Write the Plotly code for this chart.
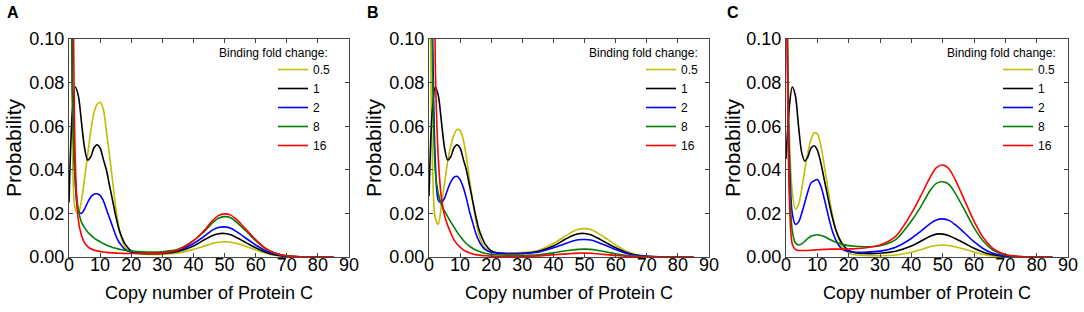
import plotly.graph_objects as go

# ---------------- data ----------------
copy_number = [0, 1, 2, 3, 4, 5, 6, 7, 8, 9, 10, 11, 12, 13, 14, 15, 16, 17, 18, 20, 22, 25, 30, 35,
               40, 43, 46, 48, 50, 52, 54, 57, 60, 63, 66, 70, 75, 80, 85]
fold_labels = ["0.5", "1", "2", "8", "16"]
panel_labels = ["A", "B", "C"]
x_ticks = [0, 10, 20, 30, 40, 50, 60, 70, 80, 90]
y_ticks = [0.00, 0.02, 0.04, 0.06, 0.08, 0.10]

# Panel A
a_05 = [0.25, 0.07, 0.022, 0.020, 0.026, 0.036, 0.047, 0.058, 0.066, 0.070, 0.071, 0.068, 0.058, 0.047, 0.035,
        0.023, 0.014, 0.008, 0.0045, 0.0022, 0.0015, 0.0012, 0.0012, 0.0018, 0.0035, 0.0048, 0.0062, 0.0068,
        0.0070, 0.0068, 0.0062, 0.0048, 0.0032, 0.0018, 0.0008, 0.0002, 0.00005, 0, 0]
a_1 = [0.025, 0.065, 0.078, 0.074, 0.062, 0.050, 0.0445, 0.046, 0.050, 0.0515, 0.050, 0.045, 0.040, 0.033, 0.026,
       0.019, 0.013, 0.009, 0.006, 0.0028, 0.0018, 0.0015, 0.0016, 0.0025, 0.005, 0.0075, 0.0098, 0.0107,
       0.0108, 0.0102, 0.0088, 0.0065, 0.0042, 0.0023, 0.0010, 0.0003, 0.00005, 0, 0]
a_2 = [0.30, 0.09, 0.035, 0.021, 0.020, 0.022, 0.025, 0.0275, 0.0288, 0.029, 0.0283, 0.026, 0.022, 0.018, 0.014,
       0.010, 0.007, 0.005, 0.0035, 0.0022, 0.0018, 0.0018, 0.002, 0.003, 0.0062, 0.009, 0.0122, 0.0135,
       0.0138, 0.0132, 0.0115, 0.0085, 0.0055, 0.003, 0.0014, 0.0004, 0.0001, 0, 0]
a_8 = [0.30, 0.08, 0.035, 0.022, 0.016, 0.0135, 0.0115, 0.010, 0.0088, 0.0078, 0.007, 0.0062, 0.0055, 0.0049,
       0.0044, 0.004, 0.0036, 0.0033, 0.003, 0.0027, 0.0025, 0.0023, 0.0024, 0.0035, 0.0075, 0.011, 0.0155,
       0.0178, 0.0185, 0.018, 0.0158, 0.0118, 0.0075, 0.004, 0.0018, 0.0005, 0.0001, 0, 0]
a_16 = [0.50, 0.20, 0.045, 0.017, 0.010, 0.0065, 0.0048, 0.0038, 0.0032, 0.0028, 0.0025, 0.0023, 0.0021, 0.002,
        0.0019, 0.0018, 0.0017, 0.0017, 0.0016, 0.0016, 0.0016, 0.0016, 0.0019, 0.0032, 0.0075, 0.0115, 0.0165,
        0.019, 0.0198, 0.0192, 0.017, 0.0125, 0.008, 0.0042, 0.0019, 0.0005, 0.0001, 0, 0]

# Panel B
b_05 = [0.20, 0.05, 0.018, 0.015, 0.024, 0.034, 0.044, 0.051, 0.056, 0.0585, 0.058, 0.054, 0.046, 0.036, 0.026,
        0.017, 0.0105, 0.0065, 0.0042, 0.0024, 0.002, 0.0018, 0.002, 0.003, 0.0062, 0.0088, 0.0115, 0.0127,
        0.013, 0.0126, 0.0112, 0.0085, 0.0055, 0.003, 0.0014, 0.0004, 0.0001, 0, 0]
b_1 = [0.028, 0.066, 0.078, 0.074, 0.062, 0.050, 0.0445, 0.046, 0.050, 0.0515, 0.050, 0.045, 0.040, 0.033, 0.026,
       0.019, 0.013, 0.009, 0.006, 0.0028, 0.0018, 0.0015, 0.0016, 0.0025, 0.005, 0.0075, 0.0098, 0.0107,
       0.0108, 0.0102, 0.0088, 0.0065, 0.0042, 0.0023, 0.0010, 0.0003, 0.00005, 0, 0]
b_2 = [0.35, 0.12, 0.045, 0.026, 0.025, 0.027, 0.031, 0.0345, 0.0365, 0.037, 0.0355, 0.032, 0.027, 0.021, 0.016,
       0.011, 0.0075, 0.005, 0.0035, 0.0022, 0.0018, 0.0016, 0.0017, 0.0022, 0.0042, 0.0057, 0.0072, 0.0079,
       0.008, 0.0078, 0.0069, 0.0052, 0.0034, 0.0019, 0.0009, 0.0003, 0.0001, 0, 0]
b_8 = [0.30, 0.10, 0.04, 0.029, 0.024, 0.021, 0.0185, 0.016, 0.0138, 0.0115, 0.0095, 0.0077, 0.0062, 0.005, 0.004,
       0.0032, 0.0026, 0.0021, 0.0017, 0.0012, 0.001, 0.0008, 0.0008, 0.001, 0.0019, 0.0026, 0.0032, 0.0035,
       0.0036, 0.0035, 0.0031, 0.0023, 0.0015, 0.0008, 0.0004, 0.0001, 0, 0, 0]
b_16 = [0.60, 0.30, 0.09, 0.045, 0.027, 0.019, 0.0145, 0.011, 0.008, 0.006, 0.0045, 0.0033, 0.0025, 0.0019,
        0.0014, 0.0011, 0.0009, 0.0007, 0.0006, 0.0004, 0.0003, 0.0003, 0.0003, 0.0005, 0.001, 0.0013, 0.0016,
        0.0018, 0.0018, 0.0017, 0.0015, 0.0011, 0.0007, 0.0004, 0.0002, 0.0001, 0, 0, 0]

# Panel C
c_05 = [0.20, 0.06, 0.03, 0.022, 0.024, 0.031, 0.040, 0.048, 0.054, 0.057, 0.0565, 0.052, 0.044, 0.035, 0.026,
        0.018, 0.012, 0.0075, 0.0045, 0.0018, 0.001, 0.0007, 0.0006, 0.0009, 0.0022, 0.0033, 0.0047, 0.0053,
        0.0055, 0.0053, 0.0047, 0.0036, 0.0023, 0.0012, 0.0005, 0.0001, 0, 0, 0]
c_1 = [0.045, 0.068, 0.078, 0.074, 0.060, 0.048, 0.044, 0.046, 0.050, 0.051, 0.049, 0.044, 0.037, 0.030, 0.023,
       0.017, 0.012, 0.0085, 0.006, 0.003, 0.002, 0.0016, 0.0017, 0.0026, 0.005, 0.0072, 0.0095, 0.0105,
       0.0105, 0.0098, 0.0085, 0.0063, 0.004, 0.0022, 0.001, 0.0003, 0.00005, 0, 0]
c_2 = [0.15, 0.05, 0.02, 0.015, 0.016, 0.020, 0.025, 0.030, 0.034, 0.035, 0.0355, 0.033, 0.028, 0.022, 0.016,
       0.011, 0.0075, 0.005, 0.0035, 0.0025, 0.0022, 0.0022, 0.0027, 0.0045, 0.0085, 0.0118, 0.0153, 0.017,
       0.0175, 0.0168, 0.0148, 0.011, 0.007, 0.0038, 0.0017, 0.0005, 0.0001, 0, 0]
c_8 = [0.20, 0.04, 0.012, 0.0065, 0.0055, 0.006, 0.0072, 0.0085, 0.0095, 0.010, 0.0102, 0.010, 0.0095, 0.0088,
       0.008, 0.0073, 0.0067, 0.0062, 0.0058, 0.0052, 0.0049, 0.0047, 0.0052, 0.008, 0.0165, 0.023, 0.0305,
       0.0338, 0.0345, 0.0333, 0.0293, 0.0215, 0.0135, 0.0072, 0.0032, 0.0009, 0.0002, 0, 0]
c_16 = [0.25, 0.03, 0.006, 0.0035, 0.003, 0.003, 0.003, 0.003, 0.0031, 0.0032, 0.0033, 0.0034, 0.0035, 0.0035,
        0.0036, 0.0036, 0.0036, 0.0036, 0.0036, 0.0037, 0.0038, 0.0041, 0.0055, 0.0095, 0.02, 0.028, 0.0365,
        0.041, 0.0422, 0.0405, 0.0355, 0.026, 0.0165, 0.0088, 0.004, 0.0011, 0.0002, 0, 0]

panels = [[a_05, a_1, a_2, a_8, a_16],
          [b_05, b_1, b_2, b_8, b_16],
          [c_05, c_1, c_2, c_8, c_16]]

# ---------------- styling ----------------
W, H = 1084, 312
FONT = "Liberation Sans, Arial, sans-serif"
colors = ["#bfbf00", "#000000", "#0000ff", "#008000", "#ff0000"]
plot_left = [69, 429, 786]
plot_right = [349, 709, 1068]
plot_top, plot_bottom = 39, 257
legend_left = [273, 641, 998]
legend_title_right = [330, 700, 1058]
letter_x = [13, 373, 733]
ytitle_x = [13, 373, 732]

def px(v):
    return v / W

def py(v):
    return 1 - v / H

fig = go.Figure()
legend_names = ["legend", "legend2", "legend3"]
for p, series in enumerate(panels):
    ax = "" if p == 0 else str(p + 1)
    for name, vals, col in zip(fold_labels, series, colors):
        fig.add_trace(go.Scatter(
            x=copy_number, y=vals, mode="lines", name=name,
            line=dict(color=col, width=1.6, shape="spline", smoothing=0.8),
            xaxis="x" + ax, yaxis="y" + ax, legend=legend_names[p],
        ))

layout = dict(
    template="none",
    width=W, height=H, margin=dict(l=0, r=0, t=0, b=0, pad=0, autoexpand=False),
    paper_bgcolor="white", plot_bgcolor="white",
    font=dict(family=FONT, color="black"),
    showlegend=True,
)
annotations = []
for p in range(3):
    ax = "" if p == 0 else str(p + 1)
    common = dict(showline=True, linecolor="#444444", linewidth=1, mirror="ticks",
                  ticks="inside", ticklen=4, tickcolor="#444444", showgrid=False, zeroline=False,
                  automargin=False, tickfont=dict(size=18, family=FONT, color="black"))
    layout["xaxis" + ax] = dict(domain=[px(plot_left[p]), px(plot_right[p])], range=[0, 90],
                                tickvals=x_ticks, anchor="y" + ax, ticklabelstandoff=-9, **common)
    layout["yaxis" + ax] = dict(domain=[py(plot_bottom), py(plot_top)], range=[0, 0.1],
                                tickvals=y_ticks, tickformat=".2f", anchor="x" + ax, **common)
    layout[legend_names[p]] = dict(x=px(legend_left[p]), xanchor="left", y=py(55), yanchor="top",
                                   bgcolor="rgba(0,0,0,0)", font=dict(size=12, family=FONT),
                                   tracegroupgap=0, borderwidth=0)
    annotations.append(dict(text="Binding fold change:", x=px(legend_title_right[p]), y=py(53),
                            xref="paper", yref="paper", xanchor="right", yanchor="middle",
                            showarrow=False, font=dict(size=12, family=FONT)))
    annotations.append(dict(text="<b>" + panel_labels[p] + "</b>", x=px(letter_x[p]), y=py(13),
                            xref="paper", yref="paper", xanchor="center", yanchor="middle",
                            showarrow=False, font=dict(size=16, family=FONT)))
    annotations.append(dict(text="Probability", x=px(ytitle_x[p]), y=py(148), textangle=-90,
                            xref="paper", yref="paper", xanchor="center", yanchor="middle",
                            showarrow=False, font=dict(size=21, family=FONT)))
    annotations.append(dict(text="Copy number of Protein C", x=px((plot_left[p] + plot_right[p]) / 2),
                            y=py(293), xref="paper", yref="paper", xanchor="center", yanchor="middle",
                            showarrow=False, font=dict(size=18, family=FONT)))
layout["annotations"] = annotations
fig.update_layout(**layout)

fig.write_html("out.html", config={"displayModeBar": False},
               post_script="document.body.style.margin='0px';")
